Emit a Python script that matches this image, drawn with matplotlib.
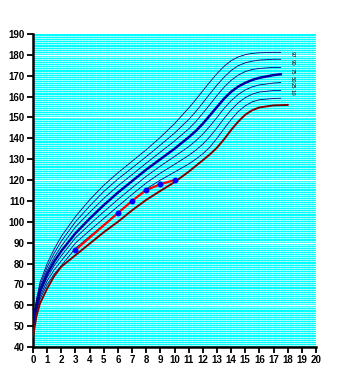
import numpy as np
import matplotlib
matplotlib.use("Agg")
import matplotlib.pyplot as plt

# ages (years) for the percentile curves
ages = [0, 0.25, 0.5, 1, 1.5, 2, 3, 4, 5, 6, 7, 8, 9, 10, 11, 11.5, 12, 12.5,
        13, 13.5, 14, 14.5, 15, 15.5, 16, 17, 17.5]
p97 = [52.5, 63.0, 71.0, 80.0, 87.0, 93.0, 102.5, 110.5, 117.5, 123.5, 129.0, 134.5, 140.5, 147.0,
       154.5, 158.5, 162.8, 167.0, 171.0, 174.5, 177.2, 179.0, 180.1, 180.7, 181.0, 181.2, 181.2]
p90 = [51.7, 62.0, 69.7, 78.3, 85.0, 90.7, 100.0, 107.5, 114.5, 120.5, 125.8, 131.2, 136.8, 142.5,
       149.0, 152.8, 157.0, 161.3, 165.5, 169.3, 172.5, 174.8, 176.2, 177.0, 177.5, 177.9, 177.9]
p75 = [50.8, 61.0, 68.3, 76.7, 83.0, 88.3, 97.5, 104.5, 111.2, 117.2, 122.6, 128.1, 133.4, 138.7,
       144.5, 148.0, 152.0, 156.2, 160.5, 164.5, 167.8, 170.3, 172.0, 173.0, 173.5, 174.0, 174.0]
p50 = [50.0, 60.0, 67.0, 75.0, 81.0, 86.0, 94.5, 101.5, 108.0, 114.0, 119.5, 125.0, 130.0, 135.0,
       140.5, 143.5, 147.0, 151.0, 155.0, 159.0, 162.3, 164.8, 166.6, 168.0, 169.0, 170.3, 170.7]
p25 = [49.2, 59.0, 65.7, 73.3, 79.0, 83.7, 92.3, 98.7, 104.8, 110.7, 116.3, 121.8, 126.7, 131.3,
       136.0, 138.8, 142.0, 145.8, 150.0, 154.3, 158.0, 161.0, 163.2, 164.7, 165.6, 166.5, 166.7]
p10 = [48.3, 58.0, 64.3, 71.7, 77.0, 81.3, 89.8, 95.8, 101.6, 107.4, 113.1, 118.6, 123.3, 127.5,
       131.8, 134.3, 137.2, 140.8, 145.0, 149.5, 153.6, 157.0, 159.5, 161.2, 162.2, 162.9, 163.0]
p3 = [47.5, 57.0, 63.0, 70.0, 75.0, 79.0, 87.3, 93.0, 98.5, 104.3, 110.0, 115.7, 120.0, 123.8,
      127.7, 130.0, 132.6, 135.8, 140.0, 144.6, 149.0, 152.8, 155.6, 157.5, 158.5, 159.1, 159.2]
blue_curves = [p97, p90, p75, p50, p25, p10, p3]

# lowest (dark red) reference curve
red_ages = [0, 0.25, 0.5, 1, 1.5, 2, 3, 4, 5, 6, 7, 8, 9, 10, 11, 12, 12.5, 13, 13.5,
            14, 14.5, 15, 15.5, 16, 17, 18]
red_vals = [45.0, 55.0, 61.0, 68.0, 74.0, 78.5, 84.0, 89.5, 95.0, 100.0, 105.5, 110.5, 114.8, 119.0,
            124.0, 129.5, 132.3, 135.5, 139.5, 144.0, 148.0, 151.3, 153.5, 154.8, 155.8, 156.0]

# patient measurements
pat_age = [3, 6, 7, 8, 9, 10]
pat_h = [86.5, 104.2, 110.0, 115.2, 118.0, 120.0]

labels = ["97", "90", "75", "50", "25", "10"]
label_y = [180.0, 176.2, 172.2, 168.2, 165.6, 161.8]

fig = plt.figure(figsize=(3.37, 3.77), dpi=100)
ax = fig.add_axes([33/337, 30/377, 283/337, 313/377])
ax.set_facecolor("#00FFFF")

# grid texture: white rows every cm, broken by cyan columns
for y in np.arange(41, 190, 1):
    ax.axhline(y, color="white", lw=0.55, zorder=0)
for x in np.arange(0.2, 20, 0.2):
    ax.axvline(x, color="#00FFFF", lw=0.35, zorder=0.5)
for y in [60, 90, 120, 150, 180]:
    ax.axhline(y, color="white", lw=1.0, zorder=0.6)

for i, c in enumerate(blue_curves):
    if i == 3:
        ax.plot(ages, c, color="#0000A0", lw=1.8, zorder=3)
    else:
        ax.plot(ages, c, color="#000080", lw=0.6, zorder=3)
ax.plot(red_ages, red_vals, color="#800000", lw=1.4, zorder=3)
ax.plot(pat_age, pat_h, color="#FF0000", lw=1.6, zorder=4)
ax.plot(pat_age, pat_h, ls="none", marker="o", ms=3.2, color="#0000FF", zorder=5)

for t, y in zip(labels, label_y):
    ax.text(18.3, y, t, fontsize=3.8, rotation=-90, ha="center", va="center", color="black")

ax.set_xlim(0, 20)
ax.set_ylim(40, 190)
ax.set_xticks(range(0, 21))
ax.set_yticks(range(40, 191, 10))
for lab in ax.get_xticklabels() + ax.get_yticklabels():
    lab.set_fontweight("bold")
    lab.set_fontfamily("Liberation Sans")
ax.tick_params(direction="out", length=4, width=1.3, labelsize=7, pad=2)
for s in ["top", "right"]:
    ax.spines[s].set_visible(False)
for s in ["left", "bottom"]:
    ax.spines[s].set_linewidth(1.8)

fig.savefig("out.png", dpi=100, facecolor="white")
